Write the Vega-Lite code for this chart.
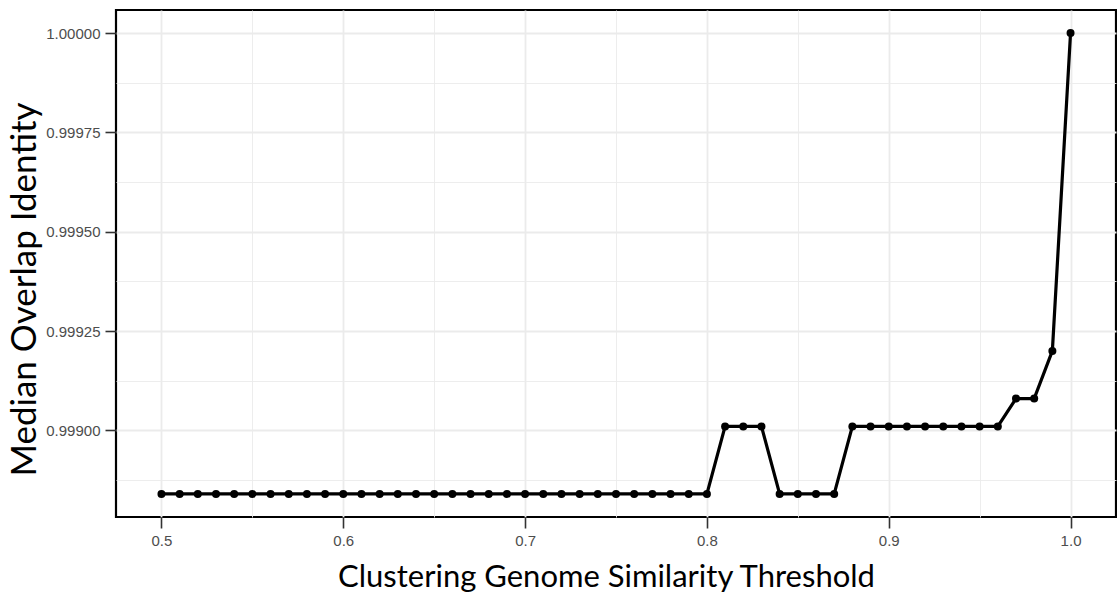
{
  "$schema": "https://vega.github.io/schema/vega-lite/v6.json",
  "width": 1000,
  "height": 507,
  "autosize": {"type": "none"},
  "padding": {"left": 116, "top": 10, "right": 1, "bottom": 78},
  "background": "white",
  "config": {
    "view": {"stroke": "black", "strokeWidth": 2.2},
    "axis": {
      "domain": false,
      "labelFont": "Liberation Sans",
      "labelFontSize": 15,
      "labelColor": "#4d4d4d",
      "tickColor": "#333333",
      "tickWidth": 1.6,
      "tickSize": 11,
      "labelPadding": 5,
      "titleFont": "Lato",
      "titleFontWeight": "normal",
      "titleColor": "black",
      "gridColor": "#ebebeb"
    }
  },
  "data": {
    "values": [
      {"t": 0.50, "v": 0.99884}, {"t": 0.51, "v": 0.99884}, {"t": 0.52, "v": 0.99884}, {"t": 0.53, "v": 0.99884},
      {"t": 0.54, "v": 0.99884}, {"t": 0.55, "v": 0.99884}, {"t": 0.56, "v": 0.99884}, {"t": 0.57, "v": 0.99884},
      {"t": 0.58, "v": 0.99884}, {"t": 0.59, "v": 0.99884}, {"t": 0.60, "v": 0.99884}, {"t": 0.61, "v": 0.99884},
      {"t": 0.62, "v": 0.99884}, {"t": 0.63, "v": 0.99884}, {"t": 0.64, "v": 0.99884}, {"t": 0.65, "v": 0.99884},
      {"t": 0.66, "v": 0.99884}, {"t": 0.67, "v": 0.99884}, {"t": 0.68, "v": 0.99884}, {"t": 0.69, "v": 0.99884},
      {"t": 0.70, "v": 0.99884}, {"t": 0.71, "v": 0.99884}, {"t": 0.72, "v": 0.99884}, {"t": 0.73, "v": 0.99884},
      {"t": 0.74, "v": 0.99884}, {"t": 0.75, "v": 0.99884}, {"t": 0.76, "v": 0.99884}, {"t": 0.77, "v": 0.99884},
      {"t": 0.78, "v": 0.99884}, {"t": 0.79, "v": 0.99884}, {"t": 0.80, "v": 0.99884}, {"t": 0.81, "v": 0.99901},
      {"t": 0.82, "v": 0.99901}, {"t": 0.83, "v": 0.99901}, {"t": 0.84, "v": 0.99884}, {"t": 0.85, "v": 0.99884},
      {"t": 0.86, "v": 0.99884}, {"t": 0.87, "v": 0.99884}, {"t": 0.88, "v": 0.99901}, {"t": 0.89, "v": 0.99901},
      {"t": 0.90, "v": 0.99901}, {"t": 0.91, "v": 0.99901}, {"t": 0.92, "v": 0.99901}, {"t": 0.93, "v": 0.99901},
      {"t": 0.94, "v": 0.99901}, {"t": 0.95, "v": 0.99901}, {"t": 0.96, "v": 0.99901}, {"t": 0.97, "v": 0.99908},
      {"t": 0.98, "v": 0.99908}, {"t": 0.99, "v": 0.99920}, {"t": 1.00, "v": 1.00000}
    ]
  },
  "encoding": {
    "x": {
      "field": "t",
      "type": "quantitative",
      "scale": {"domain": [0.475, 1.025], "nice": false, "zero": false},
      "axis": {
        "title": "Clustering Genome Similarity Threshold",
        "titleFontSize": 31,
        "values": [0.5, 0.55, 0.6, 0.65, 0.7, 0.75, 0.8, 0.85, 0.9, 0.95, 1.0],
        "labelExpr": "round(datum.value*100) % 10 == 0 ? format(datum.value, '.1f') : ''",
        "tickOpacity": {"condition": {"test": "round(datum.value*100) % 10 == 0", "value": 1}, "value": 0},
        "gridWidth": {"condition": {"test": "round(datum.value*100) % 10 == 0", "value": 1.8}, "value": 0.9},
        "titleX": 490,
        "titleY": 60,
        "titleBaseline": "middle"
      }
    },
    "y": {
      "field": "v",
      "type": "quantitative",
      "scale": {"domain": [0.998782, 1.000058], "nice": false, "zero": false},
      "axis": {
        "title": "Median Overlap Identity",
        "titleFontSize": 35,
        "values": [0.998875, 0.999, 0.999125, 0.99925, 0.999375, 0.9995, 0.999625, 0.99975, 0.999875, 1.0],
        "labelExpr": "round(datum.value*1000000) % 250 == 0 ? format(datum.value, '.5f') : ''",
        "tickOpacity": {"condition": {"test": "round(datum.value*1000000) % 250 == 0", "value": 1}, "value": 0},
        "gridWidth": {"condition": {"test": "round(datum.value*1000000) % 250 == 0", "value": 1.8}, "value": 0.9},
        "titleX": -92,
        "titleY": 279,
        "titleBaseline": "middle"
      }
    }
  },
  "layer": [
    {"mark": {"type": "line", "color": "black", "strokeWidth": 3.2}},
    {"mark": {"type": "point", "filled": true, "color": "black", "opacity": 1, "size": 64}}
  ]
}
